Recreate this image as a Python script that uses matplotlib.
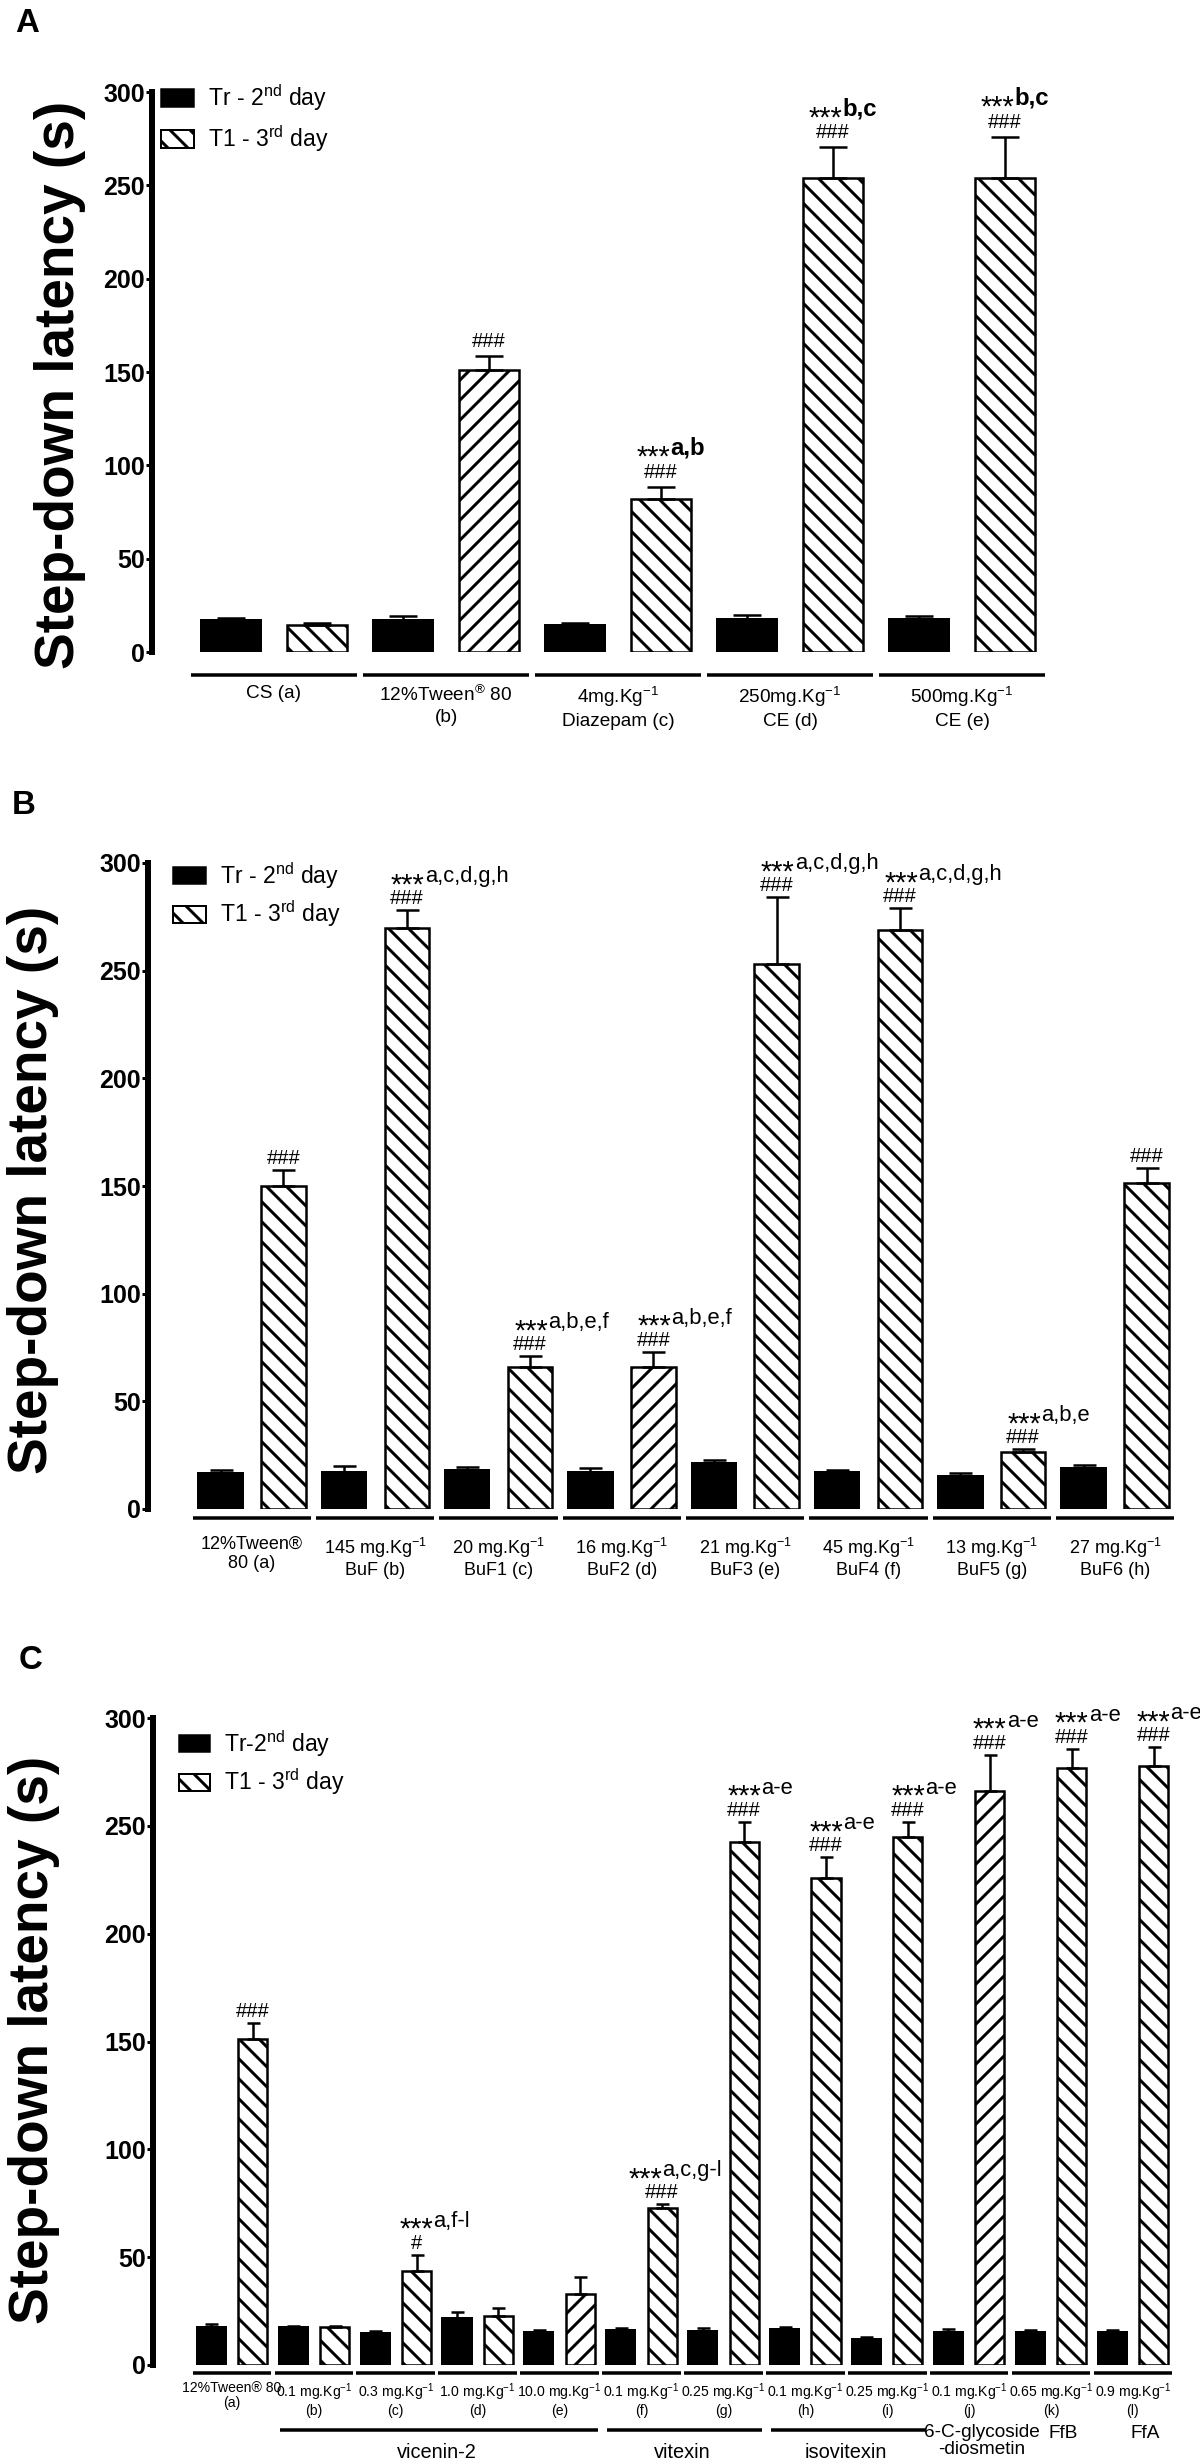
import matplotlib
matplotlib.use("Agg")
import matplotlib.pyplot as plt
import matplotlib.font_manager as fm
import matplotlib.transforms as mtrans
from matplotlib.patches import Patch
import numpy as np

W, H, DPI = 1200, 2462, 60


def P(px):
    # pixel size -> points at this dpi
    return px * 72.0 / DPI


avail = {f.name for f in fm.fontManager.ttflist}
SANS = "Liberation Sans" if "Liberation Sans" in avail else "DejaVu Sans"
NARROW = "Liberation Sans Narrow" if "Liberation Sans Narrow" in avail else SANS
HAS_NARROW = NARROW != SANS

plt.rcParams["font.family"] = [SANS, "DejaVu Sans"]
plt.rcParams["mathtext.fontset"] = "custom"
plt.rcParams["mathtext.rm"] = SANS
plt.rcParams["mathtext.it"] = SANS
plt.rcParams["mathtext.bf"] = SANS + ":bold"
plt.rcParams["mathtext.default"] = "regular"
plt.rcParams["hatch.linewidth"] = P(3.0)

# ---- data: panel A ----
a_labels = ["CS (a)", "12%Tween$^{\\circledR}$ 80\n(b)", "4mg.Kg$^{-1}$\nDiazepam (c)",
            "250mg.Kg$^{-1}$\nCE (d)", "500mg.Kg$^{-1}$\nCE (e)"]
a_tr = [17, 17, 14.5, 17.5, 17.5]
a_tr_err = [1, 2.5, 1, 2.5, 2]
a_t1 = [14.5, 151, 82, 254, 254]
a_t1_err = [1, 7.5, 6.5, 16.5, 22]
a_hatch = ["\\", "/", "\\", "\\", "\\"]
a_hash = ["", "###", "###", "###", "###"]
a_stars = ["", "", "a,b", "b,c", "b,c"]

# ---- data: panel B ----
b_labels = ["12%Tween®\n80 (a)", "145 mg.Kg$^{-1}$\nBuF (b)", "20 mg.Kg$^{-1}$\nBuF1 (c)",
            "16 mg.Kg$^{-1}$\nBuF2 (d)", "21 mg.Kg$^{-1}$\nBuF3 (e)", "45 mg.Kg$^{-1}$\nBuF4 (f)",
            "13 mg.Kg$^{-1}$\nBuF5 (g)", "27 mg.Kg$^{-1}$\nBuF6 (h)"]
b_tr = [16.6, 17, 18, 17, 21.3, 17, 15.5, 19]
b_tr_err = [1.5, 3, 1.5, 2, 1.5, 1, 1, 1.5]
b_t1 = [150, 270, 66, 66, 253, 269, 26.6, 151.5]
b_t1_err = [7.5, 8, 5, 7, 31, 10, 1.2, 7]
b_hatch = ["\\", "\\", "\\", "/", "\\", "\\", "\\", "\\"]
b_hash = ["###"] * 8
b_stars = ["", "a,c,d,g,h", "a,b,e,f", "a,b,e,f", "a,c,d,g,h", "a,c,d,g,h", "a,b,e", ""]

# ---- data: panel C ----
c_labels = ["12%Tween® 80\n(a)", "0.1 mg.Kg$^{-1}$\n(b)", "0.3 mg.Kg$^{-1}$\n(c)",
            "1.0 mg.Kg$^{-1}$\n(d)", "10.0 mg.Kg$^{-1}$\n(e)", "0.1 mg.Kg$^{-1}$\n(f)",
            "0.25 mg.Kg$^{-1}$\n(g)", "0.1 mg.Kg$^{-1}$\n(h)", "0.25 mg.Kg$^{-1}$\n(i)",
            "0.1 mg.Kg$^{-1}$\n(j)", "0.65 mg.Kg$^{-1}$\n(k)", "0.9 mg.Kg$^{-1}$\n(l)"]
c_tr = [17.5, 17.5, 15, 21.7, 15.4, 16.2, 15.7, 16.7, 12, 15.4, 15.2, 15.2]
c_tr_err = [1.5, 0.8, 0.8, 3, 0.8, 0.8, 1.3, 0.7, 0.8, 1.1, 0.8, 1.1]
c_t1 = [151, 17.5, 43.7, 22.8, 32.8, 73, 242.5, 226, 245, 266, 276.7, 277.7]
c_t1_err = [7.5, 0.5, 7.3, 3.8, 8.1, 1.6, 9.5, 9.5, 7, 17, 9, 8.8]
c_hatch = ["\\", "\\", "\\", "\\", "/", "\\", "\\", "\\", "\\", "/", "\\", "\\"]
c_hash = ["###", "", "#", "", "", "###", "###", "###", "###", "###", "###", "###"]
c_stars = ["", "", "a,f-l", "", "", "a,c,g-l", "a-e", "a-e", "a-e", "a-e", "a-e", "a-e"]
c_compounds = ["vicenin-2", "vitexin", "isovitexin"]
c_compound_span = [(1, 4), (5, 6), (7, 8)]
c_single = ["6-C-glycoside\n-diosmetin", "FfB", "FfA"]
c_single_at = [9, 10, 11]

fig = plt.figure(figsize=(W / DPI, H / DPI), dpi=DPI)


def make_axes(left, top, bottom, spacing, c0, xmax):
    xmin = -(c0 - left) / spacing
    right = left + (xmax - xmin) * spacing
    ax = fig.add_axes([left / W, 1 - bottom / H, (right - left) / W, (bottom - top) / H])
    ax.set_xlim(xmin, xmax)
    ax.set_ylim(0, 300)
    ax.patch.set_alpha(0)
    for s in ["top", "right", "bottom"]:
        ax.spines[s].set_visible(False)
    ax.spines["left"].set_linewidth(P(6))
    ax.set_yticks(range(0, 301, 50))
    ax.tick_params(axis="y", length=P(6), width=P(3), pad=P(1), labelsize=P(25))
    for t in ax.get_yticklabels():
        t.set_fontweight("bold")
    return ax


def panel(ax, labels, tr, tr_err, t1, t1_err, hatches, hashes, stars, o):
    n = len(labels)
    x = np.arange(n)
    off, w = o["off"], o["w"]
    ax.bar(x - off, tr, w, color="black", edgecolor="black", linewidth=P(2), zorder=2)
    bars = ax.bar(x + off, t1, w, color="white", edgecolor="black", linewidth=P(2.5), zorder=2)
    for b, h in zip(bars, hatches):
        b.set_hatch(h)
    for xx, m, e in [(x - off, tr, tr_err), (x + off, t1, t1_err)]:
        ax.errorbar(xx, m, yerr=[np.zeros(n), e], fmt="none", ecolor="black",
                    elinewidth=P(2.5), capsize=P(o["cap"]), capthick=P(2.5), zorder=3)

    # under-group lines
    tr_line = mtrans.offset_copy(ax.get_xaxis_transform(), fig=fig, y=-o["line_dy"], units="dots")
    for i in range(n):
        ax.plot([i - 0.48, i + 0.48], [0, 0], color="black", lw=P(3.5),
                transform=tr_line, clip_on=False, solid_capstyle="butt")

    ax.set_xticks(x)
    ax.set_xticklabels(labels, fontsize=P(o["xfs"]), family=o["xfam"])
    ax.tick_params(axis="x", length=0, pad=P(o["xpad"]))
    for t in ax.get_xticklabels():
        t.set_linespacing(o["xls"])

    weight = "bold" if o.get("bold") else "normal"
    for i in range(n):
        top = t1[i] + t1_err[i]
        xc = x[i] + off
        if hashes[i]:
            ax.annotate(hashes[i], (xc, top), xytext=(0, P(o["hash_dy"])),
                        textcoords="offset points", ha="center", va="baseline",
                        fontsize=P(20), annotation_clip=False)
        if stars[i]:
            jx = o["jx_long"] if len(stars[i]) > 6 else o["jx"]
            ly = o["hash_dy"] + o["star_dy"]
            ax.annotate(stars[i], (xc, top), xytext=(P(jx), P(ly)), textcoords="offset points",
                        ha="left", va="baseline", fontsize=P(o["sfs"]), fontweight=weight,
                        annotation_clip=False)
            ax.annotate("***", (xc, top), xytext=(P(jx), P(ly - 11)), textcoords="offset points",
                        ha="right", va="baseline", fontsize=P(29), annotation_clip=False)

    h1 = Patch(facecolor="black", edgecolor="black", linewidth=P(1.5))
    h2 = Patch(facecolor="white", edgecolor="black", linewidth=P(2), hatch="\\")
    ax.legend([h1, h2], o["leg"], loc="upper left", frameon=False, fontsize=P(23),
              bbox_to_anchor=(o["leg_xy"][0] / W, 1 - o["leg_xy"][1] / H),
              bbox_transform=fig.transFigure, borderpad=0, borderaxespad=0,
              handlelength=o["hl"], handleheight=o["hh"], handletextpad=0.6,
              labelspacing=o["lsp"])


# ---- panel A ----
axA = make_axes(152, 92, 652, 172, 274, 4.6)
panel(axA, a_labels, a_tr, a_tr_err, a_t1, a_t1_err, a_hatch, a_hash, a_stars,
      dict(off=0.25, w=0.345, cap=14, line_dy=23, xfs=19, xfam=SANS, xpad=33, xls=1.3,
           hash_dy=9, star_dy=23, jx=9, jx_long=9, sfs=24, bold=True,
           leg=["Tr - 2$^{nd}$ day", "T1 - 3$^{rd}$ day"], leg_xy=(161, 82),
           hl=1.43, hh=0.8, lsp=0.45))

# ---- panel B ----
axB = make_axes(148, 863, 1509, 123.3, 252, 7.5)
panel(axB, b_labels, b_tr, b_tr_err, b_t1, b_t1_err, b_hatch, b_hash, b_stars,
      dict(off=0.255, w=0.36, cap=11.5, line_dy=9, xfs=18, xfam=SANS, xpad=27, xls=1.15,
           hash_dy=6, star_dy=22, jx=18, jx_long=18, sfs=22,
           leg=["Tr - 2$^{nd}$ day", "T1 - 3$^{rd}$ day"], leg_xy=(173, 860),
           hl=1.43, hh=0.72, lsp=0.35))

# ---- panel C ----
axC = make_axes(153, 1718, 2365, 81.9, 232, 11.6)
panel(axC, c_labels, c_tr, c_tr_err, c_t1, c_t1_err, c_hatch, c_hash, c_stars,
      dict(off=0.253, w=0.355, cap=6.5, line_dy=8, xfs=16 if HAS_NARROW else 14, xfam=NARROW,
           xpad=16, xls=1.12, hash_dy=6, star_dy=22, jx=17, jx_long=0, sfs=22,
           leg=["Tr-2$^{nd}$ day", "T1 - 3$^{rd}$ day"], leg_xy=(179, 1728),
           hl=1.35, hh=0.74, lsp=0.35))

lvl2 = mtrans.offset_copy(axC.get_xaxis_transform(), fig=fig, y=-65, units="dots")
for name, (i0, i1) in zip(c_compounds, c_compound_span):
    axC.plot([i0 - 0.42, i1 + 0.47], [0, 0], color="black", lw=P(3.5), transform=lvl2,
             clip_on=False, solid_capstyle="butt")
    axC.annotate(name, ((i0 + i1) / 2, 0), xycoords=("data", "axes fraction"),
                 xytext=(0, P(-88)), textcoords="offset points", ha="center", va="center",
                 fontsize=P(20), annotation_clip=False)
for name, i in zip(c_single, c_single_at):
    dy = -76 if "\n" in name else -68
    axC.annotate(name, (i + 0.15, 0), xycoords=("data", "axes fraction"),
                 xytext=(0, P(dy)), textcoords="offset points", ha="center", va="center",
                 fontsize=P(19), linespacing=1.05, annotation_clip=False)

# y labels and panel letters
for (xp, yp) in [(60, 385), (33, 1190), (34, 2040)]:
    fig.text(xp / W, 1 - yp / H, "Step-down latency (s)", rotation=90, fontsize=P(55),
             fontweight="bold", ha="center", va="center")
for letter, (xp, yp) in zip("ABC", [(15, 8), (12, 790), (19, 1645)]):
    fig.text(xp / W, 1 - yp / H, letter, fontsize=P(33), fontweight="bold", ha="left", va="top")

fig.savefig("out.png", dpi=DPI, facecolor="white")
